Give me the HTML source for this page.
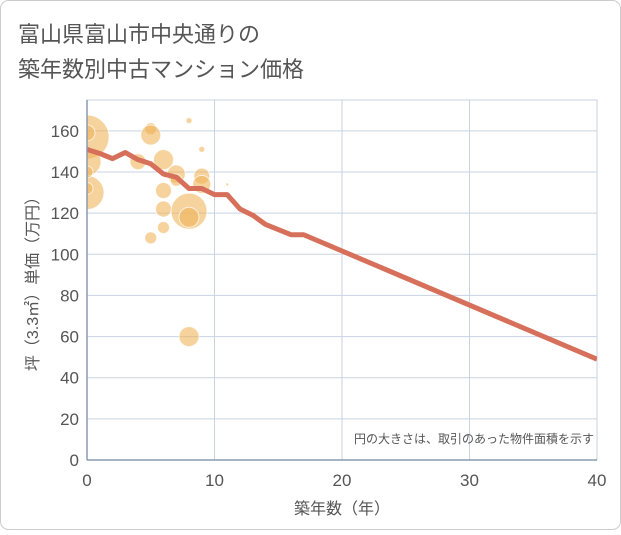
<!DOCTYPE html>
<html><head><meta charset="utf-8">
<style>
body{margin:0;background:#fff;font-family:"Liberation Sans","Noto Sans CJK JP",sans-serif;}
#wrap{position:relative;width:621px;height:530px;}
</style></head><body>
<div id="wrap">
<svg id="chart" width="621" height="530" xmlns="http://www.w3.org/2000/svg">
<defs><clipPath id="plotclip"><rect x="87" y="100" width="510" height="360"/></clipPath></defs>
<rect x="0.5" y="0.5" width="620" height="529" rx="8" fill="#fff" stroke="#ccc"/>
<text x="18" y="42" font-size="22" fill="#555" font-family="Liberation Sans, Noto Sans CJK JP, sans-serif">富山県富山市中央通りの</text>
<text x="18" y="77" font-size="22" fill="#555" font-family="Liberation Sans, Noto Sans CJK JP, sans-serif">築年数別中古マンション価格</text>
<g id="grid"></g>
<g id="bubbles" clip-path="url(#plotclip)"></g>
<g id="line" clip-path="url(#plotclip)"></g>
<g id="axes"></g>
<text x="594" y="443" font-size="12" fill="#555" text-anchor="end" font-family="Liberation Sans, Noto Sans CJK JP, sans-serif">円の大きさは、取引のあった物件面積を示す</text>
<text x="342" y="514" font-size="16" fill="#555" text-anchor="middle" font-family="Liberation Sans, Noto Sans CJK JP, sans-serif">築年数（年）</text>
<text transform="translate(38,280) rotate(-90)" font-size="16" fill="#555" text-anchor="middle" font-family="Liberation Sans, Noto Sans CJK JP, sans-serif">坪（3.3㎡）単価（万円）</text>
</svg>
</div>
<script>
const xTicks=[0,10,20,30,40];
const yTicks=[0,20,40,60,80,100,120,140,160];
const lineX=[0,1,2,3,4,5,6,7,8,9,10,11,12,13,14,15,16,17,40];
const lineY=[151,149,146.5,149.5,146,144,139,137.5,132,132,129,129,122,119,114.5,112,109.5,109.5,49];
const bubX=[0,0,0,0,0,0,5,5,4,6,6,6,6,5,7,7,8,8,8,8,9,9,9,11];
const bubY=[157,130,145,159,140,132,161,158,145,146,131,122,113,108,139,136,165,121,118,60,151,138,134,134];
const bubR=[22,17,14,8,6,6,6,10,8,10,8,8,6,6,9,6,3,18,10,10,3,8,9,1.5];
const X0=87,X1=597,Y0=460,Y1=100,YMAX=175;
const sx=v=>X0+(v/40)*(X1-X0);
const sy=v=>Y0-(v/YMAX)*(Y0-Y1);
const NS="http://www.w3.org/2000/svg";
function mk(t,a,p){const e=document.createElementNS(NS,t);for(const k in a)e.setAttribute(k,a[k]);p.appendChild(e);return e;}
const grid=document.getElementById('grid'),axes=document.getElementById('axes');
const bg=mk('rect',{x:X0,y:Y1,width:X1-X0,height:Y0-Y1,fill:'#fff',stroke:'#c8d3e0'},grid);


yTicks.forEach(v=>{
 const l=mk('line',{x1:X0,x2:X1,y1:sy(v),y2:sy(v),stroke:'#c8d3e3','stroke-width':1},grid);
 
 
 const t=mk('text',{x:X0-8,y:sy(v)+6,'font-size':17,fill:'#555','text-anchor':'end'},axes);
 t.textContent=v;
 
 
});
xTicks.forEach(v=>{
 const l=mk('line',{x1:sx(v),x2:sx(v),y1:Y1,y2:Y0,stroke:'#c8d3e3','stroke-width':1},grid);
 
 
 const t=mk('text',{x:sx(v),y:Y0+26,'font-size':17,fill:'#555','text-anchor':'middle'},axes);
 t.textContent=v;
 
 
});
const ax=mk('line',{x1:X0,x2:X0,y1:Y1,y2:Y0,stroke:'#8a9bb0','stroke-width':1.5},axes);


const bx=mk('line',{x1:X0,x2:X1,y1:Y0,y2:Y0,stroke:'#8a9bb0','stroke-width':1.5},axes);


const bub=document.getElementById('bubbles');
bubX.forEach((v,i)=>{
 const c=mk('circle',{cx:sx(v),cy:sy(bubY[i]),r:bubR[i],fill:'rgba(240,180,90,0.6)',stroke:'rgba(255,255,255,0.7)','stroke-width':1},bub);
 
 
});
const pts=lineX.map((v,i)=>sx(v)+','+sy(lineY[i])).join(' ');
const pl=mk('polyline',{points:pts,fill:'none',stroke:'#d7705a','stroke-width':5,'stroke-linejoin':'round'},document.getElementById('line'));


</script>
</body></html>
